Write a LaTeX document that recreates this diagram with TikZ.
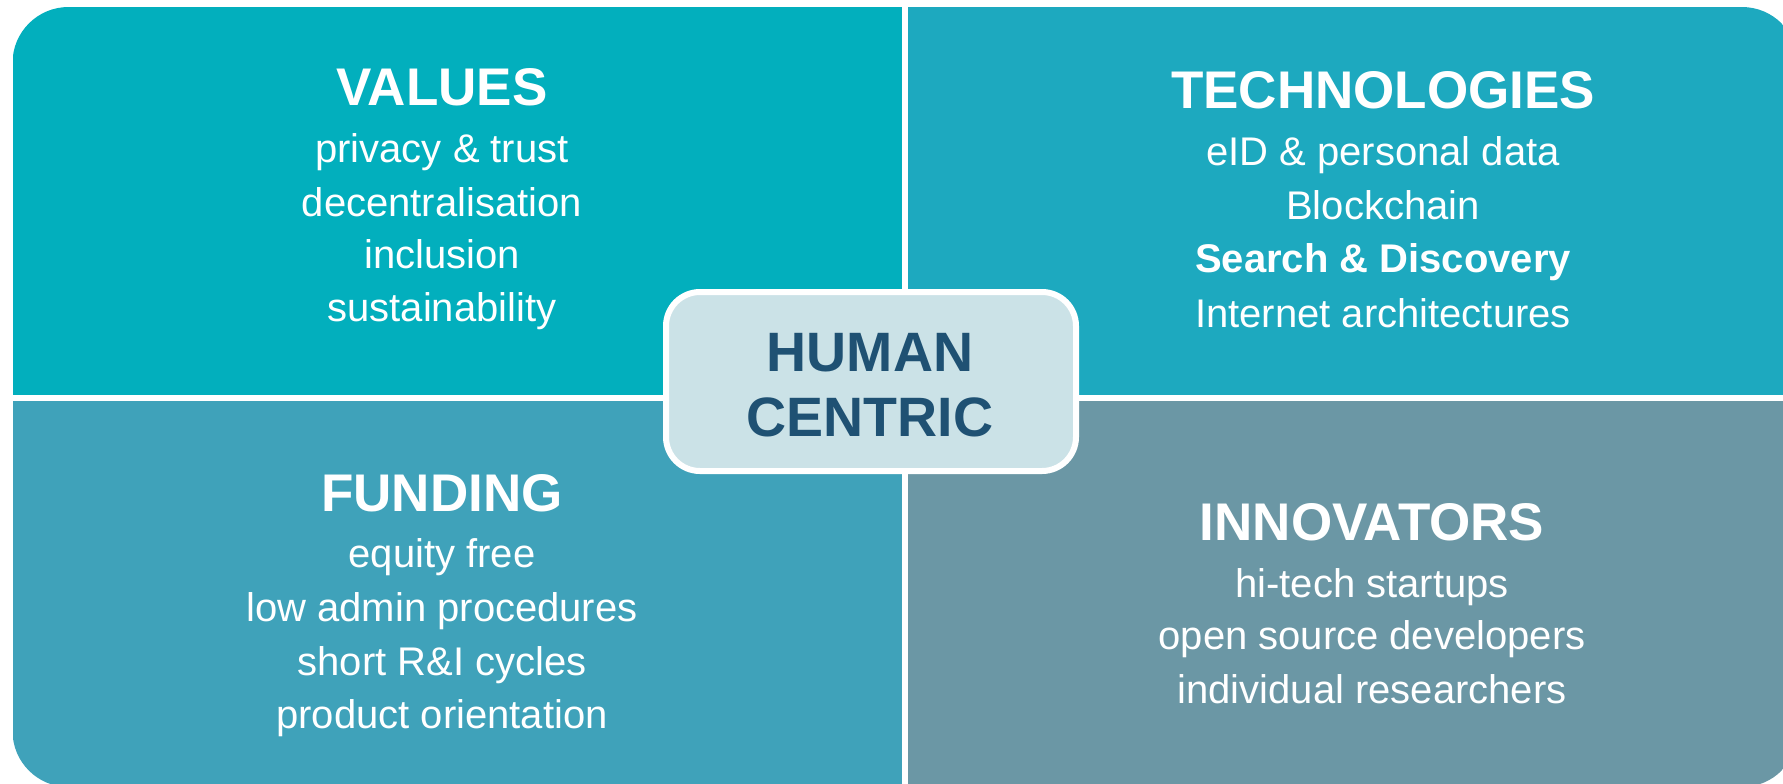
\documentclass[tikz,border=0pt]{standalone}
\usepackage{fontspec}
\setmainfont{Liberation Sans}
\definecolor{cTL}{HTML}{02AFBD}
\definecolor{cTR}{HTML}{1DA9BF}
\definecolor{cBL}{HTML}{3FA2BA}
\definecolor{cBR}{HTML}{6B97A5}
\definecolor{cCenter}{HTML}{CBE2E7}
\definecolor{cCText}{HTML}{1F5173}
\begin{document}
\begin{tikzpicture}[x=0.5pt,y=-0.5pt,
  head/.style={font=\fontsize{26.5}{30}\selectfont\bfseries, text=white, anchor=base, inner sep=0pt},
  body/.style={font=\fontsize{20}{24}\selectfont, text=white, anchor=base, inner sep=0pt},
  bodyb/.style={body, font=\fontsize{20}{24}\selectfont\bfseries},
  ctext/.style={font=\fontsize{27.75}{32}\selectfont\bfseries, text=cCText, anchor=base, inner sep=0pt},
  divider/.style={white, line width=3pt},
  quad/.style={draw=none}]
\useasboundingbox (0,0) rectangle (1783,783);
\begin{scope}
  \clip (0,0) rectangle (1783,783);
  \begin{scope}
    \clip[rounded corners=28pt] (12.5,7) rectangle (1798,787);
    \fill[cTL] (12.5,7) rectangle (905,398);
    \fill[cTR] (905,7) rectangle (1798,398);
    \fill[cBL] (12.5,398) rectangle (905,787);
    \fill[cBR] (905,398) rectangle (1798,787);
    \draw[divider] (905,0) -- (905,790);
    \draw[divider] (0,398) -- (1800,398);
  \end{scope}
\end{scope}
% center box
\node[draw=white, line width=3pt, fill=cCenter, rounded corners=17pt,
      minimum width=205pt, minimum height=89.5pt, inner sep=0pt] (hc) at (871,381.5) {};
\node[ctext] (hc1) at (870,371) {HUMAN};
\node[ctext] (hc2) at (870,436) {CENTRIC};
% values
\node[head] (vh) at (442,105) {VALUES};
\node[body] (v1) at (442,162) {privacy \& trust};
\node[body] (v2) at (442,216) {decentralisation};
\node[body] (v3) at (442,268) {inclusion};
\node[body] (v4) at (442,321) {sustainability};
% technologies
\node[head] (th) at (1383,108) {TECHNOLOGIES};
\node[body] (t1) at (1383,165) {eID \& personal data};
\node[body] (t2) at (1383,219) {Blockchain};
\node[bodyb] (t3) at (1383,272) {Search \& Discovery};
\node[body] (t4) at (1383,327) {Internet architectures};
% funding
\node[head] (fh) at (442,511) {FUNDING};
\node[body] (f1) at (442,567) {equity free};
\node[body] (f2) at (442,621) {low admin procedures};
\node[body] (f3) at (442,675) {short R\&I cycles};
\node[body] (f4) at (442,728) {product orientation};
% innovators
\node[head] (ih) at (1372,540) {INNOVATORS};
\node[body] (i1) at (1372,597) {hi-tech startups};
\node[body] (i2) at (1372,649) {open source developers};
\node[body] (i3) at (1372,703) {individual researchers};
\end{tikzpicture}
\end{document}
